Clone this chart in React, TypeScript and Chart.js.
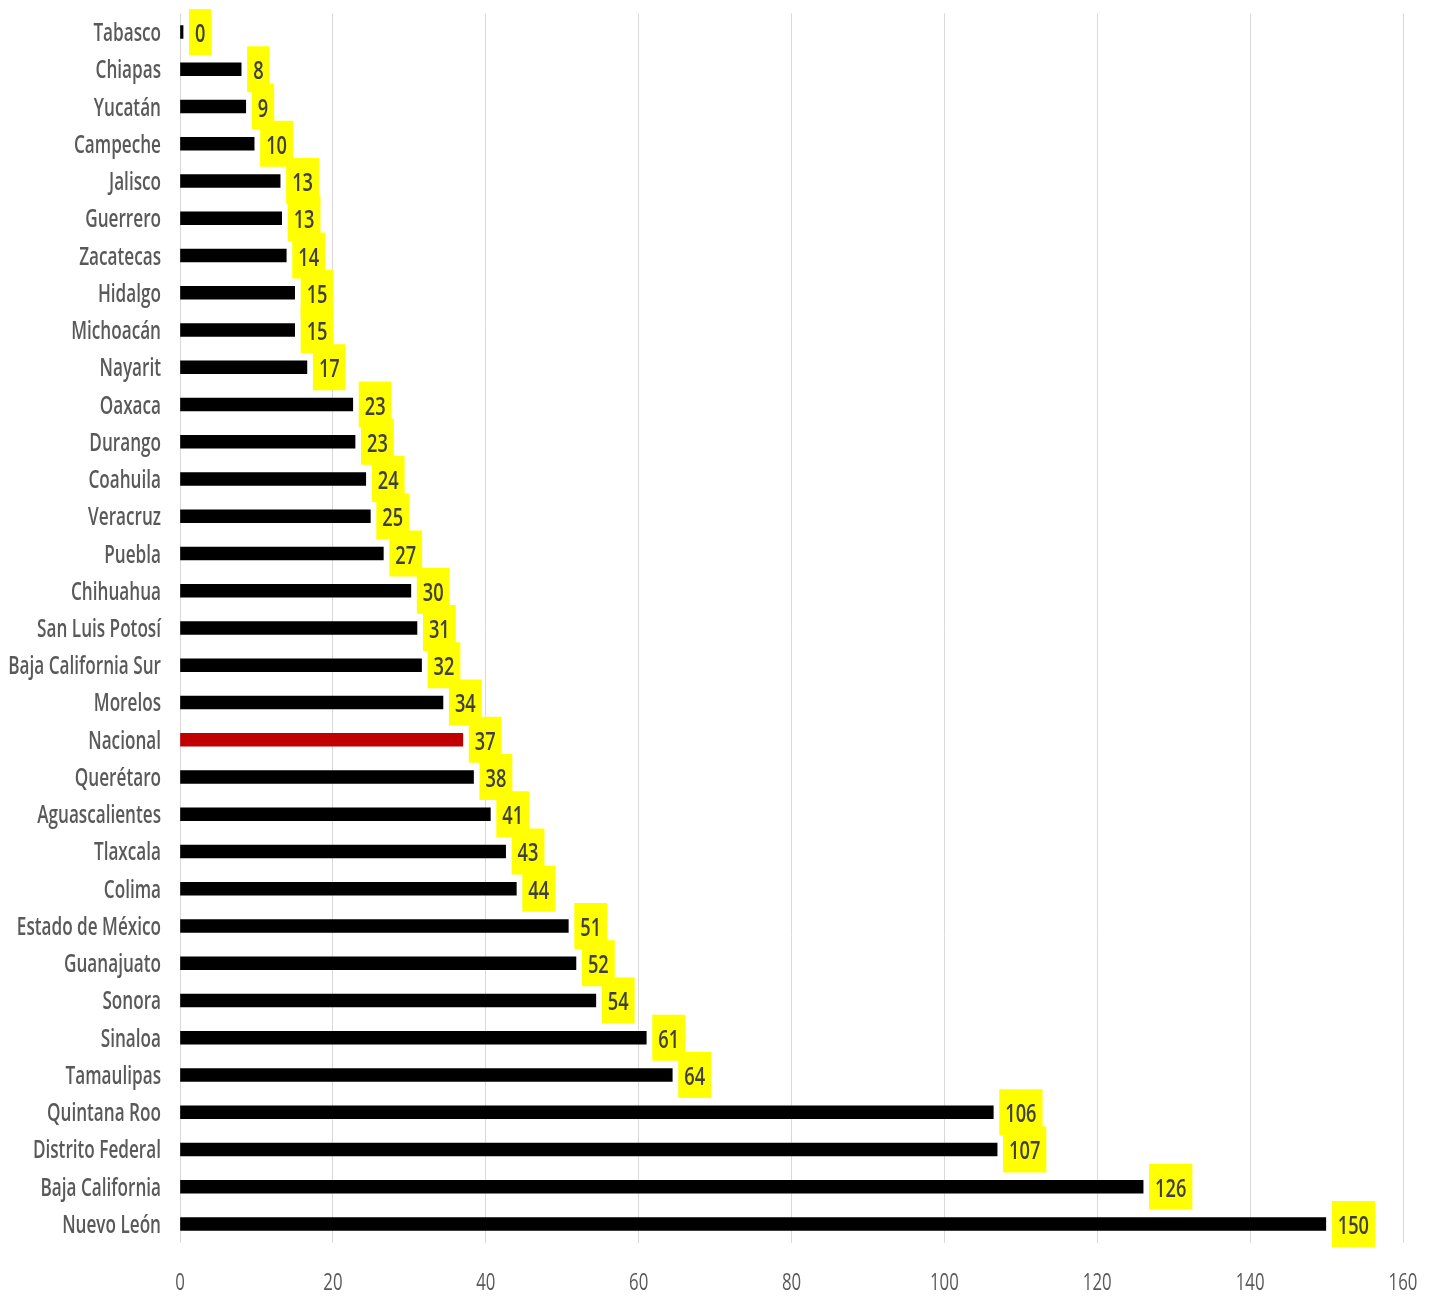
import React, { useEffect, useRef } from "react";
import { Chart, registerables } from "chart.js";

Chart.register(...registerables);

const categories: string[] = [
  "Tabasco", "Chiapas", "Yucatán", "Campeche", "Jalisco", "Guerrero", "Zacatecas",
  "Hidalgo", "Michoacán", "Nayarit", "Oaxaca", "Durango", "Coahuila", "Veracruz",
  "Puebla", "Chihuahua", "San Luis Potosí", "Baja California Sur", "Morelos", "Nacional",
  "Querétaro", "Aguascalientes", "Tlaxcala", "Colima", "Estado de México", "Guanajuato",
  "Sonora", "Sinaloa", "Tamaulipas", "Quintana Roo", "Distrito Federal", "Baja California",
  "Nuevo León",
];

const values: number[] = [
  0.4, 8.0, 8.6, 9.7, 13.1, 13.3, 13.9,
  15.0, 15.0, 16.6, 22.6, 22.9, 24.3, 24.9,
  26.6, 30.2, 31.0, 31.6, 34.4, 37.0,
  38.4, 40.6, 42.6, 44.0, 50.8, 51.8,
  54.4, 61.0, 64.4, 106.4, 106.9, 126.0,
  149.9,
];

const highlightCategory = "Nacional";
const xTicks: number[] = [0, 20, 40, 60, 80, 100, 120, 140, 160];

const FONT = "'Open Sans', 'Noto Sans', sans-serif";
const SQUEEZE = 0.7;

function drawSqueezed(ctx: CanvasRenderingContext2D, txt: string, x: number, y: number, align: "left" | "right" | "center") {
  const w = ctx.measureText(txt).width * SQUEEZE;
  let left = x;
  if (align === "right") left = x - w;
  if (align === "center") left = x - w / 2;
  ctx.save();
  ctx.translate(left, y);
  ctx.scale(SQUEEZE, 1);
  ctx.textAlign = "left";
  ctx.fillText(txt, 0, 0);
  ctx.restore();
}

const textPlugin = {
  id: "squeezedText",
  afterDatasetsDraw(chart: any) {
    const ctx: CanvasRenderingContext2D = chart.ctx;
    const meta = chart.getDatasetMeta(0);
    ctx.save();
    ctx.textBaseline = "alphabetic";
    ctx.font = `600 26px ${FONT}`;
    meta.data.forEach((bar: any, i: number) => {
      const txt = String(Math.round(values[i]));
      const tw = ctx.measureText(txt).width * SQUEEZE;
      const w = tw + 12;
      const x0 = bar.x + 6;
      ctx.fillStyle = "#ffff00";
      ctx.fillRect(x0, bar.y - 23, w, 46);
      ctx.fillStyle = "#404040";
      drawSqueezed(ctx, txt, x0 + w / 2, bar.y + 10, "center");
    });
    ctx.restore();
  },
  afterDraw(chart: any) {
    const ctx: CanvasRenderingContext2D = chart.ctx;
    const ys = chart.scales.y;
    const xs = chart.scales.x;
    ctx.save();
    ctx.textBaseline = "alphabetic";
    ctx.fillStyle = "#595959";
    ctx.font = `600 24.5px ${FONT}`;
    categories.forEach((c, i) => {
      const y = ys.getPixelForTick(i);
      drawSqueezed(ctx, c, chart.chartArea.left - 19, y + 9, "right");
    });
    ctx.font = `24px ${FONT}`;
    xs.ticks.forEach((t: any, i: number) => {
      const x = xs.getPixelForTick(i);
      drawSqueezed(ctx, String(t.value), x, chart.chartArea.bottom + 47, "center");
    });
    ctx.restore();
  },
};

export default function App() {
  const ref = useRef<HTMLCanvasElement | null>(null);
  useEffect(() => {
    if (!ref.current) return;
    const chart = new Chart(ref.current, {
      type: "bar",
      data: {
        labels: categories,
        datasets: [
          {
            data: values,
            backgroundColor: categories.map((c) => (c === highlightCategory ? "#c00000" : "#000000")),
            barThickness: 13,
          },
        ],
      },
      options: {
        indexAxis: "y",
        animation: false,
        responsive: false,
        devicePixelRatio: 1,
        layout: { padding: { top: 5.4, right: 25, left: 0, bottom: 0 } },
        plugins: { legend: { display: false }, tooltip: { enabled: false } },
        scales: {
          x: {
            min: 0,
            max: 160,
            afterBuildTicks: (scale: any) => {
              scale.ticks = xTicks.map((v) => ({ value: v }));
            },
            afterFit: (scale: any) => {
              scale.height = 53.4;
            },
            grid: { color: "#d9d9d9", drawTicks: false, lineWidth: 1 },
            border: { display: false },
            ticks: { display: false },
          },
          y: {
            afterFit: (scale: any) => {
              scale.width = 172;
            },
            grid: { display: false, drawTicks: false },
            border: { display: false },
            ticks: { display: false, autoSkip: false },
          },
        },
      },
      plugins: [textPlugin],
    });
    return () => chart.destroy();
  }, []);
  return (
    <div style={{ width: 1420, height: 1288 }}>
      <canvas ref={ref} width={1420} height={1288} style={{ display: "block", width: 1420, height: 1288 }} />
    </div>
  );
}
